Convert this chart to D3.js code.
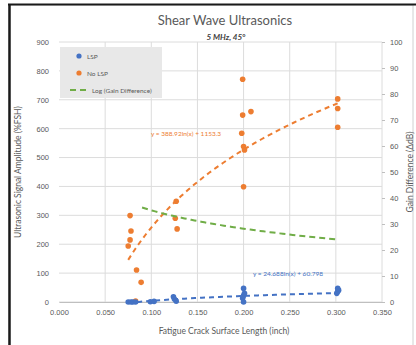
<!DOCTYPE html>
<html>
<head>
<meta charset="utf-8">
<script src="https://cdn.jsdelivr.net/npm/d3@7"></script>
<style>
  html, body { margin: 0; padding: 0; background: #fff; }
  svg { display: block; font-family: Lato, "Open Sans", sans-serif; }
</style>
</head>
<body>
<svg id="chart" width="416" height="345"></svg>
<script>
// Crack length (inch) and amplitude (%FSH) for specimens with LSP
const lspLength = [0.075, 0.078, 0.080, 0.083, 0.099, 0.103, 0.124, 0.125, 0.127,
                   0.200, 0.199, 0.200, 0.201, 0.200, 0.301, 0.302, 0.303, 0.302];
const lspAmp    = [0, 0, 0, 0, 1, 2, 18, 10, 3,
                   0, 13, 22, 30, 47, 30, 36, 41, 47];

// Crack length (inch) and amplitude (%FSH) for specimens without LSP
const noLspLength = [0.077, 0.078, 0.077, 0.075, 0.084, 0.089, 0.083,
                     0.127, 0.126, 0.128,
                     0.199, 0.199, 0.208, 0.198, 0.200, 0.201, 0.200,
                     0.302, 0.302, 0.302];
const noLspAmp    = [299, 246, 215, 194, 111, 68, 3,
                     349, 290, 253,
                     771, 647, 659, 584, 538, 526, 399,
                     703, 670, 605];

// Logarithmic trend coefficients y = a ln(x) + b, with fitted x-range
const lspTrend   = { a: 24.688, b: 60.798, from: 0.075, to: 0.303 };
const noLspTrend = { a: 388.92, b: 1153.3, from: 0.075, to: 0.303 };
const gainTrend  = { a: -10.2,  b: 11.8,   from: 0.090, to: 0.303 };

// Axis ticks
const xTicks      = [0, 0.05, 0.10, 0.15, 0.20, 0.25, 0.30, 0.35];
const leftTicks   = [0, 100, 200, 300, 400, 500, 600, 700, 800, 900];
const rightTicks  = [0, 10, 20, 30, 40, 50, 60, 70, 80, 90, 100];

const legendItems = [
  { label: "LSP", color: "#4472C4", kind: "dot" },
  { label: "No LSP", color: "#ED7D31", kind: "dot" },
  { label: "Log (Gain Difference)", color: "#70AD47", kind: "dash" }
];

const svg = d3.select("#chart");
const textColor = "#595959";
const gridColor = "#dcdcdc";

// Outer frame
svg.append("rect").attr("x", 9).attr("y", 5).attr("width", 404).attr("height", 345)
  .attr("fill", "#fff").attr("stroke", "#d0d0d0").attr("stroke-width", 1);
svg.append("line").attr("x1", 9.5).attr("x2", 9.5).attr("y1", 4).attr("y2", 345)
  .attr("stroke", "#1a1a1a").attr("stroke-width", 2.5);
svg.append("line").attr("x1", 8).attr("x2", 416).attr("y1", 4.5).attr("y2", 4.5)
  .attr("stroke", "#1a1a1a").attr("stroke-width", 2);

const plot = { left: 59, right: 382, top: 42, bottom: 302 };

const x = d3.scaleLinear().domain([0, 0.35]).range([plot.left, plot.right]);
const yL = d3.scaleLinear().domain([0, 900]).range([plot.bottom, plot.top]);
const yR = d3.scaleLinear().domain([0, 100]).range([plot.bottom, plot.top]);

// Gridlines
svg.append("g").selectAll("line").data(xTicks.slice(1)).join("line")
  .attr("x1", d => x(d)).attr("x2", d => x(d))
  .attr("y1", plot.top).attr("y2", plot.bottom)
  .attr("stroke", gridColor).attr("stroke-width", 1);
svg.append("g").selectAll("line").data(leftTicks).join("line")
  .attr("x1", plot.left).attr("x2", plot.right)
  .attr("y1", d => yL(d)).attr("y2", d => yL(d))
  .attr("stroke", gridColor).attr("stroke-width", 1);

// Bottom axis
const xAxis = d3.axisBottom(x).tickValues(xTicks).tickFormat(d3.format(".3f")).tickSize(0).tickPadding(8);
const gx = svg.append("g").attr("transform", `translate(0,${plot.bottom})`).call(xAxis);
gx.select(".domain").attr("stroke", "#bfbfbf");
gx.selectAll("text").attr("fill", textColor).attr("font-size", 7.5);

// Left axis
const yAxisL = d3.axisLeft(yL).tickValues(leftTicks).tickSize(0).tickPadding(10);
const gyl = svg.append("g").attr("transform", `translate(${plot.left},0)`).call(yAxisL);
gyl.select(".domain").remove();
gyl.selectAll("text").attr("fill", textColor).attr("font-size", 7.5);

// Right axis
const yAxisR = d3.axisRight(yR).tickValues(rightTicks).tickSize(3).tickPadding(5);
const gyr = svg.append("g").attr("transform", `translate(${plot.right},0)`).call(yAxisR);
gyr.select(".domain").remove();
gyr.selectAll(".tick line").attr("stroke", "#bfbfbf");
gyr.selectAll("text").attr("fill", textColor).attr("font-size", 7.5);

// Titles
svg.append("text").attr("x", 225).attr("y", 25).attr("text-anchor", "middle")
  .attr("fill", textColor).attr("font-size", 13).text("Shear Wave Ultrasonics");
svg.append("text").attr("x", 226).attr("y", 40).attr("text-anchor", "middle")
  .attr("fill", "#404040").attr("font-size", 8).attr("font-style", "italic").attr("font-weight", "bold")
  .text("5 MHz, 45°");
svg.append("text").attr("x", 224).attr("y", 334).attr("text-anchor", "middle")
  .attr("fill", textColor).attr("font-size", 8.5).text("Fatigue Crack Surface Length (inch)");
svg.append("text").attr("transform", `translate(21,${(plot.top + plot.bottom) / 2}) rotate(-90)`)
  .attr("text-anchor", "middle").attr("fill", textColor).attr("font-size", 8.5)
  .text("Ultrasonic Signal Amplitude (%FSH)");
svg.append("text").attr("transform", `translate(413,${(plot.top + plot.bottom) / 2}) rotate(-90)`)
  .attr("text-anchor", "middle").attr("fill", textColor).attr("font-size", 8.5)
  .text("Gain Difference (ΔdB)");

// Trendline helper
function trendPath(t, yScale) {
  const xs = d3.range(0, 61).map(i => t.from + (t.to - t.from) * i / 60);
  return d3.line().x(d => x(d)).y(d => yScale(t.a * Math.log(d) + t.b))(xs);
}

// Points
const lspPts = lspLength.map((v, i) => [v, lspAmp[i]]);
const noLspPts = noLspLength.map((v, i) => [v, noLspAmp[i]]);

svg.append("g").selectAll("circle").data(noLspPts).join("circle")
  .attr("cx", d => x(d[0])).attr("cy", d => yL(d[1])).attr("r", 2.8)
  .attr("fill", "#ED7D31");
svg.append("g").selectAll("circle").data(lspPts).join("circle")
  .attr("cx", d => x(d[0])).attr("cy", d => yL(d[1])).attr("r", 2.8)
  .attr("fill", "#4472C4");

// Trendlines
svg.append("path").attr("d", trendPath(noLspTrend, yL)).attr("fill", "none")
  .attr("stroke", "#ED7D31").attr("stroke-width", 2).attr("stroke-dasharray", "5,4");
svg.append("path").attr("d", trendPath(lspTrend, yL)).attr("fill", "none")
  .attr("stroke", "#4472C4").attr("stroke-width", 2).attr("stroke-dasharray", "5,4");
svg.append("path").attr("d", trendPath(gainTrend, yR)).attr("fill", "none")
  .attr("stroke", "#70AD47").attr("stroke-width", 2).attr("stroke-dasharray", "6,4");

// Trendline equations
const fmtEq = t => `y = ${t.a}ln(x) + ${t.b}`;
svg.append("text").attr("x", 186).attr("y", 136).attr("text-anchor", "middle")
  .attr("fill", "#ED7D31").attr("font-size", 6.5).text(fmtEq(noLspTrend));
svg.append("text").attr("x", 288).attr("y", 276).attr("text-anchor", "middle")
  .attr("fill", "#4472C4").attr("font-size", 6.5).text(fmtEq(lspTrend));

// Legend
const lg = svg.append("g").attr("transform", "translate(60,47)");
lg.append("rect").attr("width", 102).attr("height", 51).attr("fill", "#e8e8e8");
const rows = lg.selectAll("g").data(legendItems).join("g")
  .attr("transform", (d, i) => `translate(0,${9 + i * 17})`);
rows.filter(d => d.kind === "dot").append("circle")
  .attr("cx", 19).attr("cy", 0).attr("r", 2.6).attr("fill", d => d.color);
rows.filter(d => d.kind === "dash").append("line")
  .attr("x1", 10).attr("x2", 28).attr("y1", 0).attr("y2", 0)
  .attr("stroke", d => d.color).attr("stroke-width", 2).attr("stroke-dasharray", "6,4");
rows.append("text").attr("x", d => d.kind === "dot" ? 27 : 32).attr("y", 2.5)
  .attr("fill", textColor).attr("font-size", 6.5).text(d => d.label);
</script>
</body>
</html>
